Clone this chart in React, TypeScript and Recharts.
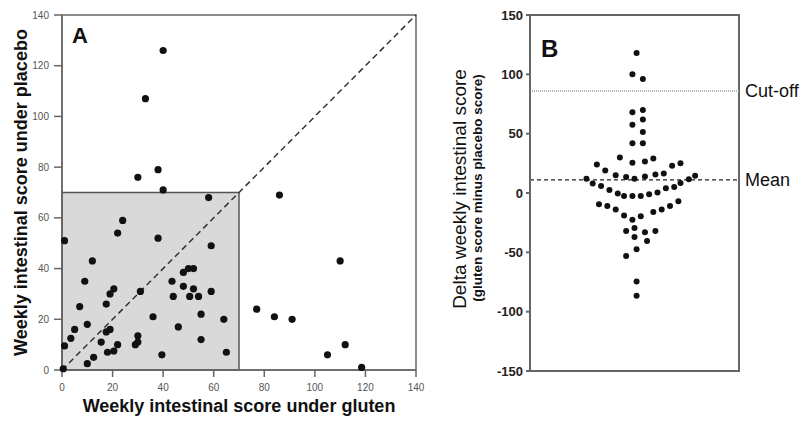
import { ScatterChart, Scatter, XAxis, YAxis, ReferenceArea, ReferenceLine, Label } from 'recharts'

// panel A: weekly intestinal score, one point per patient
const glutenScore = [
  40, 33, 30, 38, 40, 86, 58, 24, 22, 1, 38, 59, 12, 110, 9, 50, 52, 48, 43.5, 20.5,
  19, 31, 48, 52, 59, 44, 50.5, 54, 7, 17.5, 36, 55, 77, 84, 91, 64, 46, 10, 5, 19,
  17.5, 3.5, 15.5, 30, 55, 1, 22, 29, 30, 18, 20.5, 65, 39.5, 105, 12.5, 10, 0.5, 112, 118.5,
]
const placeboScore = [
  126, 107, 76, 79, 71, 69, 68, 59, 54, 51, 52, 49, 43, 43, 35, 40, 40, 38.5, 35, 32,
  30, 31, 33, 32, 31, 29, 29, 29, 25, 26, 21, 22, 24, 21, 20, 20, 17, 18, 16, 16,
  15, 12.5, 11, 13.5, 12, 9.5, 10, 10, 11, 7, 7.5, 7, 6, 6, 5, 2.5, 0.5, 10, 1,
]
const scoreTicks = [0, 20, 40, 60, 80, 100, 120, 140]
const scoreCutoff = 70

// panel B: delta (gluten minus placebo), with horizontal swarm offset
const deltaScore = [
  118, 100, 96, 70, 68, 62, 57.5, 51.5, 42, 42, 30, 29, 24, 25.5, 26.5, 25, 23, 19, 16.5, 15,
  13.5, 12, 14, 15.5, 12, 14.5, 11.5, 8.5, 8, 6, 2.5, -0.5, -2.5, -2.5, -2.5, -1, 0.5, 4, 5, -9.5,
  -11, -14, -19, -22.5, -19.5, -16, -14, -11, -7, -32, -29.5, -33, -32, -37, -40.5, -47.5, -53, -74.5, -86.5,
]
const swarmOffset = [
  1, -1, 4, 4, -1, 4, -1, 4, -1, 4, -7, 9, -18, -1, 5, 22, 18, -14, 14, -9,
  -4, 0, 5, 10, -23, 29, 26, 22, -20, -16, -12, -8, -5, -1, 3, 7, 11, 15, 19, -17,
  -13, -9, -5, -1, 3, 9, 13, 17, 21, -4, 0, 5, 10, 0, 6, 1, -4, 1, 1,
]
const deltaTicks = [-150, -100, -50, 0, 50, 100, 150]
const deltaCutoff = 86
const deltaMean = 11

const scoreData = glutenScore.map((g, i) => ({ gluten: g, placebo: placeboScore[i] }))
const deltaData = deltaScore.map((d, i) => ({ offset: swarmOffset[i], delta: d }))

const FONT = '"Liberation Sans", Arial, sans-serif'
const FRAME = '#666'

const DotA = (p: any) => <circle cx={p.cx} cy={p.cy} r={3.6} fill="#111" />
const DotB = (p: any) => <circle cx={p.cx} cy={p.cy} r={3} fill="#111" />

export default function App() {
  return (
    <div style={{ position: 'absolute', left: 0, top: 0, width: 807, height: 427, background: '#fff', fontFamily: FONT }}>
      <div style={{ position: 'absolute', left: 0, top: 0 }}>
        <ScatterChart width={430} height={427} margin={{ top: 15, right: 14, bottom: 0, left: 0 }}>
          <XAxis
            type="number"
            dataKey="gluten"
            domain={[0, 140]}
            ticks={scoreTicks}
            height={57}
            tickSize={7}
            tickMargin={7}
            stroke={FRAME}
            strokeWidth={1.5}
            tick={{ fontSize: 10, fill: '#555', fontFamily: FONT }}
          >
            <Label
              value="Weekly intestinal score under gluten"
              position="insideBottom"
              offset={15}
              style={{ fontSize: 18, fontWeight: 'bold', fill: '#111', fontFamily: FONT }}
            />
          </XAxis>
          <YAxis
            type="number"
            dataKey="placebo"
            domain={[0, 140]}
            ticks={scoreTicks}
            width={62}
            tickSize={8}
            tickMargin={5}
            stroke={FRAME}
            strokeWidth={1.5}
            tick={{ fontSize: 10, fill: '#555', fontFamily: FONT }}
            label={({ viewBox }: any) => (
              <text
                transform={`translate(${viewBox.x + 27}, ${viewBox.y + viewBox.height / 2}) rotate(-90)`}
                textAnchor="middle"
                fontSize={18}
                fontWeight="bold"
                fill="#111"
                fontFamily={FONT}
              >
                Weekly intestinal score under placebo
              </text>
            )}
          />
          <ReferenceArea
            x1={0}
            x2={scoreCutoff}
            y1={0}
            y2={scoreCutoff}
            fill="#d9d9d9"
            fillOpacity={1}
            stroke="#555"
            strokeWidth={1.5}
          />
          <ReferenceLine
            segment={[{ x: 0, y: 0 }, { x: 140, y: 140 }]}
            stroke="#333"
            strokeWidth={1.5}
            strokeDasharray="6 4"
          />
          <ReferenceArea
            x1={0}
            x2={140}
            y1={0}
            y2={140}
            fill="none"
            stroke={FRAME}
            strokeWidth={1.5}
            label={({ viewBox }: any) => (
              <text x={viewBox.x + 10} y={viewBox.y + 28} fontSize={22} fontWeight="bold" fill="#111" fontFamily={FONT}>
                A
              </text>
            )}
          />
          <Scatter data={scoreData} shape={DotA} isAnimationActive={false} />
        </ScatterChart>
      </div>

      <div style={{ position: 'absolute', left: 420, top: 0 }}>
        <ScatterChart width={387} height={427} margin={{ top: 15, right: 68, bottom: 56, left: 0 }}>
          <XAxis type="number" dataKey="offset" domain={[-50, 50]} hide />
          <YAxis
            type="number"
            dataKey="delta"
            domain={[-150, 150]}
            ticks={deltaTicks}
            width={110}
            tickSize={4}
            tickMargin={3}
            stroke={FRAME}
            strokeWidth={2}
            tick={{ fontSize: 13, fontWeight: 'bold', fill: '#222', fontFamily: FONT }}
            label={({ viewBox }: any) => (
              <g>
                <text
                  transform={`translate(${viewBox.x + 46}, ${viewBox.y + viewBox.height / 2 - 4}) rotate(-90)`}
                  textAnchor="middle"
                  fontSize={19}
                  fill="#111"
                  fontFamily={FONT}
                >
                  Delta weekly intestinal score
                </text>
                <text
                  transform={`translate(${viewBox.x + 62}, ${viewBox.y + viewBox.height / 2 - 5}) rotate(-90)`}
                  textAnchor="middle"
                  fontSize={13.5}
                  fontWeight="bold"
                  fill="#111"
                  fontFamily={FONT}
                >
                  (gluten score minus placebo score)
                </text>
              </g>
            )}
          />
          <ReferenceLine y={deltaCutoff} stroke="#999" strokeWidth={1.5} strokeDasharray="1 1">
            <Label value="Cut-off" position="right" offset={6} style={{ fontSize: 18, fill: '#111', fontFamily: FONT }} />
          </ReferenceLine>
          <ReferenceLine y={deltaMean} stroke="#222" strokeWidth={1.2} strokeDasharray="4 3">
            <Label value="Mean" position="right" offset={6} style={{ fontSize: 18, fill: '#111', fontFamily: FONT }} />
          </ReferenceLine>
          <ReferenceArea
            x1={-50}
            x2={50}
            y1={-150}
            y2={150}
            fill="none"
            stroke={FRAME}
            strokeWidth={2}
            label={({ viewBox }: any) => (
              <text x={viewBox.x + 11} y={viewBox.y + 42} fontSize={24} fontWeight="bold" fill="#111" fontFamily={FONT}>
                B
              </text>
            )}
          />
          <Scatter data={deltaData} shape={DotB} isAnimationActive={false} />
        </ScatterChart>
      </div>
    </div>
  )
}
